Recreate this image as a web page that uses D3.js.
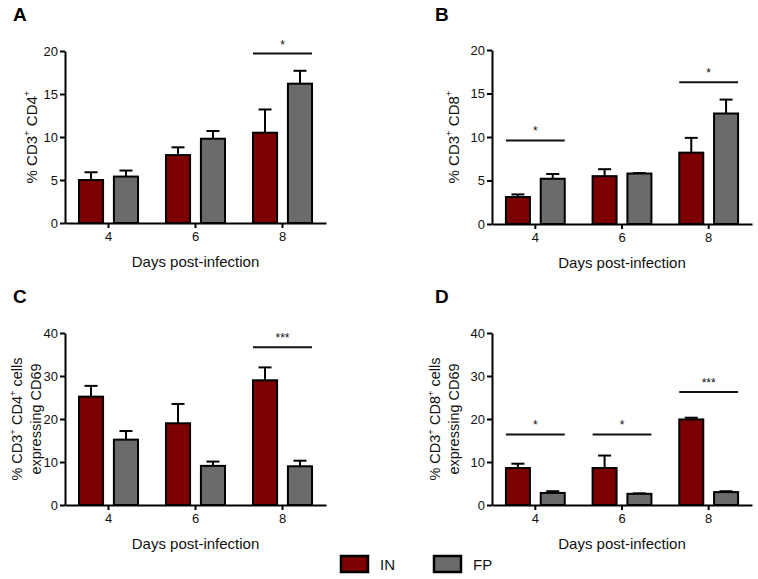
<!DOCTYPE html>
<html>
<head>
<meta charset="utf-8">
<script src="https://cdn.jsdelivr.net/npm/d3@7"></script>
<style>
  body { margin: 0; background: #fff; }
  svg { display: block; font-family: Arial, "Liberation Sans", sans-serif; }
</style>
</head>
<body>
<svg id="chart" width="758" height="579"></svg>
<script>
// ---- data ----
const days = ["4", "6", "8"];
const seriesNames = ["IN", "FP"];
const seriesColors = ["#7d0000", "#6b6b6b"];

const ticks20 = [0, 5, 10, 15, 20];
const ticks40 = [0, 10, 20, 30, 40];

// Panel A: % CD3+ CD4+
const A_IN = [5.0, 7.9, 10.5];
const A_IN_err = [0.9, 0.9, 2.7];
const A_FP = [5.4, 9.8, 16.2];
const A_FP_err = [0.7, 0.9, 1.5];
const A_sig = [["8", 19.7, "*"]];

// Panel B: % CD3+ CD8+
const B_IN = [3.1, 5.5, 8.2];
const B_IN_err = [0.3, 0.8, 1.7];
const B_FP = [5.2, 5.8, 12.7];
const B_FP_err = [0.55, 0.05, 1.6];
const B_sig = [["4", 9.6, "*"], ["8", 16.3, "*"]];

// Panel C: % CD3+ CD4+ cells expressing CD69
const C_IN = [25.2, 19.0, 29.0];
const C_IN_err = [2.5, 4.5, 3.0];
const C_FP = [15.2, 9.1, 9.0];
const C_FP_err = [2.0, 1.0, 1.3];
const C_sig = [["8", 36.7, "***"]];

// Panel D: % CD3+ CD8+ cells expressing CD69
const D_IN = [8.6, 8.6, 19.9];
const D_IN_err = [1.0, 2.9, 0.4];
const D_FP = [2.8, 2.6, 3.0];
const D_FP_err = [0.4, 0.1, 0.2];
const D_sig = [["4", 16.4, "*"], ["6", 16.4, "*"], ["8", 26.3, "***"]];

const xTitle = "Days post-infection";

// ---- layout ----
const panels = [
  { letter: "A", IN: A_IN, INe: A_IN_err, FP: A_FP, FPe: A_FP_err, sig: A_sig, max: 20, ticks: ticks20,
    left: 65, right: 326, top: 51, bottom: 223, title: [["% CD3", "+", " CD4", "+"]], titleX: 31, tfs: 15, lx: 13, ly: 21 },
  { letter: "B", IN: B_IN, INe: B_IN_err, FP: B_FP, FPe: B_FP_err, sig: B_sig, max: 20, ticks: ticks20,
    left: 492, right: 752, top: 50, bottom: 224, title: [["% CD3", "+", " CD8", "+"]], titleX: 453, tfs: 15, lx: 435, ly: 21 },
  { letter: "C", IN: C_IN, INe: C_IN_err, FP: C_FP, FPe: C_FP_err, sig: C_sig, max: 40, ticks: ticks40,
    left: 65, right: 326, top: 333, bottom: 505, title: [["% CD3", "+", " CD4", "+", " cells"], ["expressing CD69"]], titleX: 16.5, tfs: 14.5, lx: 13, ly: 303 },
  { letter: "D", IN: D_IN, INe: D_IN_err, FP: D_FP, FPe: D_FP_err, sig: D_sig, max: 40, ticks: ticks40,
    left: 492, right: 752, top: 333, bottom: 505, title: [["% CD3", "+", " CD8", "+", " cells"], ["expressing CD69"]], titleX: 435, tfs: 14.5, lx: 435, ly: 303 }
];

const svg = d3.select("#chart");

panels.forEach(p => {
  const g = svg.append("g");
  const x0 = d3.scaleBand().domain(days).range([p.left, p.right]).paddingInner(0).paddingOuter(0);
  const x1 = d3.scaleBand().domain(seriesNames).range([0, x0.bandwidth()]).paddingInner(0.31).paddingOuter(0.4);
  const y = d3.scaleLinear().domain([0, p.max]).range([p.bottom, p.top]);

  const rows = [];
  days.forEach((d, i) => {
    rows.push({ day: d, s: "IN", v: p.IN[i], e: p.INe[i], c: seriesColors[0] });
    rows.push({ day: d, s: "FP", v: p.FP[i], e: p.FPe[i], c: seriesColors[1] });
  });

  // error bars (behind bars)
  const eg = g.append("g").attr("stroke", "#000").attr("stroke-width", 2);
  rows.forEach(r => {
    const cx = x0(r.day) + x1(r.s) + x1.bandwidth() / 2;
    eg.append("line").attr("x1", cx).attr("x2", cx).attr("y1", y(r.v)).attr("y2", y(r.v + r.e));
    eg.append("line").attr("x1", cx - 6.5).attr("x2", cx + 6.5).attr("y1", y(r.v + r.e)).attr("y2", y(r.v + r.e));
  });

  g.append("g").selectAll("rect").data(rows).join("rect")
    .attr("x", r => x0(r.day) + x1(r.s))
    .attr("y", r => y(r.v))
    .attr("width", x1.bandwidth())
    .attr("height", r => y(0) - y(r.v))
    .attr("fill", r => r.c)
    .attr("stroke", "#000")
    .attr("stroke-width", 2);

  // significance lines
  p.sig.forEach(([d, v, lab]) => {
    const xa = x0(d) + x1("IN");
    const xb = x0(d) + x1("FP") + x1.bandwidth();
    g.append("line").attr("x1", xa).attr("x2", xb).attr("y1", y(v)).attr("y2", y(v))
      .attr("stroke", "#111").attr("stroke-width", 2);
    g.append("text").attr("x", (xa + xb) / 2).attr("y", y(v) - 5)
      .attr("text-anchor", "middle").attr("font-size", 12).attr("fill", "#111").text(lab);
  });

  // axes
  const ya = g.append("g").attr("transform", `translate(${p.left},0)`)
    .call(d3.axisLeft(y).tickValues(p.ticks).tickSize(5).tickSizeOuter(0).tickPadding(2));
  const xa = g.append("g").attr("transform", `translate(0,${p.bottom})`)
    .call(d3.axisBottom(x0).tickSize(5).tickSizeOuter(0).tickPadding(4));
  [ya, xa].forEach(a => {
    a.select(".domain").attr("stroke", "#000").attr("stroke-width", 2);
    a.selectAll(".tick line").attr("stroke", "#000").attr("stroke-width", 2);
    a.selectAll(".tick text").attr("font-size", 13).attr("fill", "#111").attr("font-family", "Arial, 'Liberation Sans', sans-serif");
  });

  // x title
  g.append("text").attr("x", (p.left + p.right) / 2).attr("y", p.bottom + 44)
    .attr("text-anchor", "middle").attr("font-size", 15).attr("fill", "#111").text(xTitle);

  // y title
  const tcy = (p.top + p.bottom) / 2;
  p.title.forEach((parts, li) => {
    const t = g.append("text")
      .attr("transform", `translate(${p.titleX + li * 19},${tcy}) rotate(-90)`)
      .attr("text-anchor", "middle").attr("dominant-baseline", "central")
      .attr("font-size", p.tfs).attr("fill", "#111");
    parts.forEach(s => {
      if (s === "+") {
        t.append("tspan").attr("font-size", 9.5).attr("baseline-shift", "4.5px").text("+");
      } else {
        t.append("tspan").text(s);
      }
    });
  });

  // panel letter
  g.append("text").attr("x", p.lx).attr("y", p.ly).attr("font-size", 19).attr("font-weight", "bold")
    .attr("fill", "#000").text(p.letter);
});

// legend
const leg = svg.append("g");
const legX = [341, 434];
seriesNames.forEach((s, i) => {
  leg.append("rect").attr("x", legX[i]).attr("y", 556).attr("width", 27).attr("height", 16)
    .attr("fill", seriesColors[i]).attr("stroke", "#000").attr("stroke-width", 2.5);
  leg.append("text").attr("x", legX[i] + 39).attr("y", 564).attr("dominant-baseline", "central")
    .attr("font-size", 15).attr("fill", "#111").text(s);
});
</script>
</body>
</html>
